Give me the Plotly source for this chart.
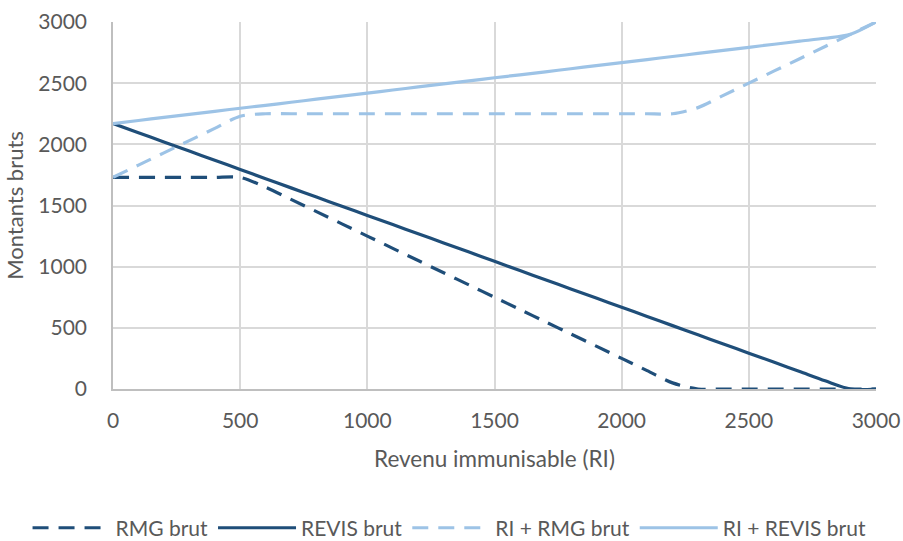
import plotly.graph_objects as go

ri = [0, 100, 200, 300, 400, 500, 600, 700, 800, 900, 1000, 1100, 1200, 1300, 1400,
      1500, 1600, 1700, 1800, 1900, 2000, 2100, 2200, 2300, 2400, 2500, 2600, 2700,
      2800, 2900, 3000]

rmg_brut = [1730, 1730, 1730, 1730, 1730, 1730, 1650, 1550, 1450, 1350, 1250, 1150,
            1050, 950, 850, 750, 650, 550, 450, 350, 250, 150, 50, 0, 0, 0, 0, 0, 0, 0, 0]

revis_brut = [2170, 2095, 2020, 1945, 1870, 1795, 1719, 1644, 1569, 1494, 1419, 1344,
              1269, 1194, 1119, 1044, 968, 893, 818, 743, 668, 593, 518, 443, 368, 293,
              218, 143, 67, 0, 0]

ri_rmg_brut = [1730, 1830, 1930, 2030, 2130, 2230, 2250, 2250, 2250, 2250, 2250, 2250,
               2250, 2250, 2250, 2250, 2250, 2250, 2250, 2250, 2250, 2250, 2250, 2300,
               2400, 2500, 2600, 2700, 2800, 2900, 3000]

ri_revis_brut = [2170, 2195, 2220, 2245, 2270, 2295, 2319, 2344, 2369, 2394, 2419, 2444,
                 2469, 2494, 2519, 2544, 2568, 2593, 2618, 2643, 2668, 2693, 2718, 2743,
                 2768, 2793, 2818, 2843, 2867, 2900, 3000]

x_ticks = [0, 500, 1000, 1500, 2000, 2500, 3000]
y_ticks = [0, 500, 1000, 1500, 2000, 2500, 3000]

DARK = "#1F4E79"
LIGHT = "#9DC3E6"
FONT = "Lato"
DASH = "16px,10px"

fig = go.Figure()
series = [
    ("RMG brut", rmg_brut, DARK, DASH),
    ("REVIS brut", revis_brut, DARK, "solid"),
    ("RI + RMG brut", ri_rmg_brut, LIGHT, DASH),
    ("RI + REVIS brut", ri_revis_brut, LIGHT, "solid"),
]
for name, ys, col, dash in series:
    fig.add_trace(go.Scatter(
        x=ri, y=ys, name=name, mode="lines",
        line=dict(color=col, width=3.2, dash=dash, shape="spline", smoothing=0.8),
    ))

fig.update_layout(
    width=903, height=541,
    margin=dict(l=113, r=27, t=22, b=152, autoexpand=False),
    paper_bgcolor="white", plot_bgcolor="white",
    font=dict(family=FONT, color="#595959", size=21),
    showlegend=True,
    legend=dict(orientation="h", x=-0.112, xanchor="left", y=-0.379, yanchor="middle",
                yref="paper", font=dict(size=21, color="#595959"),
                itemwidth=78, tracegroupgap=0),
)
fig.update_xaxes(
    range=[0, 3000], tickvals=x_ticks, ticktext=[str(v) for v in x_ticks],
    showgrid=True, gridcolor="#D9D9D9", gridwidth=1.5,
    showline=True, linecolor="#BFBFBF", linewidth=1.5,
    zeroline=False, ticks="", ticklabelstandoff=12, automargin=False,
    title=dict(text="Revenu immunisable (RI)", font=dict(size=22.5, color="#595959"), standoff=20),
)
fig.update_yaxes(
    range=[0, 3000], tickvals=y_ticks, ticktext=[str(v) for v in y_ticks],
    showgrid=True, gridcolor="#D9D9D9", gridwidth=1.5,
    showline=True, linecolor="#BFBFBF", linewidth=1.5,
    zeroline=False, ticks="", ticklabelstandoff=20, automargin=False,
    title=dict(text="Montants bruts", font=dict(size=22, color="#595959"), standoff=9),
)

fig.write_html("out.html")
